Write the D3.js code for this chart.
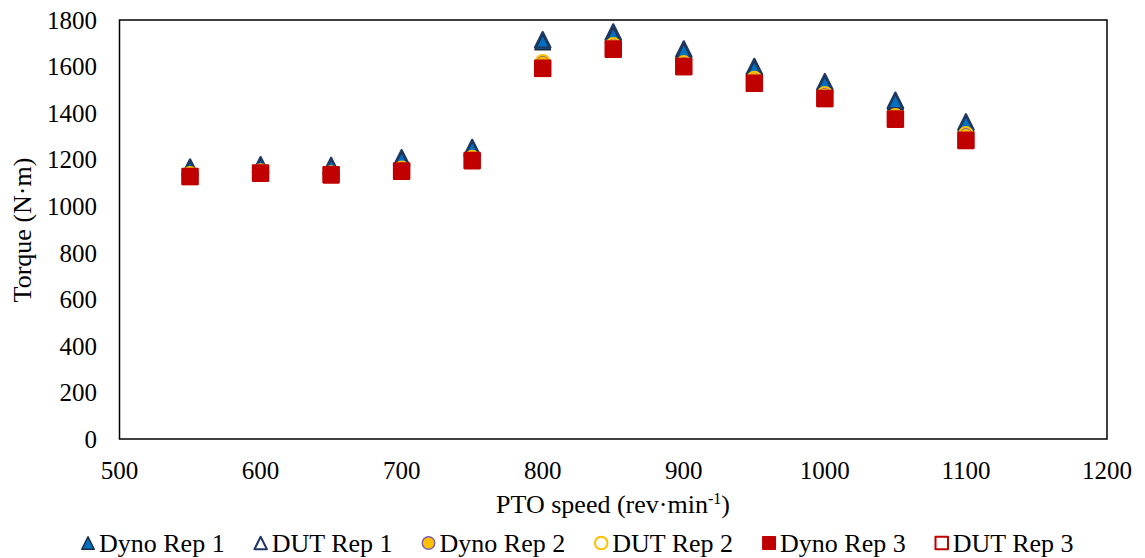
<!DOCTYPE html>
<meta charset="utf-8">
<style>
body { margin: 0; background: #fff; }
text { font-family: "Liberation Serif", "Times New Roman", serif; fill: #000; }
</style>
<body>
<div id="chart"></div>
<script src="https://d3js.org/d3.v7.min.js"></script>
<script>
// PTO speed (rev/min)
var speeds = [550, 600, 650, 700, 750, 800, 850, 900, 950, 1000, 1050, 1100];

// torque readings (N·m) per replicate
var dynoRep1 = [1160, 1170, 1168, 1200, 1245, 1705, 1735, 1665, 1590, 1525, 1448, 1355];
var dutRep1  = [1168, 1178, 1175, 1208, 1252, 1715, 1748, 1675, 1600, 1535, 1455, 1362];
var dynoRep2 = [1135, 1148, 1140, 1160, 1205, 1615, 1690, 1612, 1545, 1478, 1385, 1305];
var dutRep2  = [1138, 1150, 1142, 1162, 1208, 1620, 1693, 1615, 1548, 1482, 1388, 1310];
var dynoRep3 = [1126, 1140, 1133, 1148, 1194, 1590, 1672, 1598, 1526, 1461, 1372, 1280];
var dutRep3  = [1128, 1143, 1135, 1151, 1196, 1593, 1675, 1600, 1528, 1463, 1375, 1283];

var xTicks = [500, 600, 700, 800, 900, 1000, 1100, 1200];
var yTicks = [0, 200, 400, 600, 800, 1000, 1200, 1400, 1600, 1800];

var series = [
  {name: "Dyno Rep 1", values: dynoRep1, shape: "tri", fill: "#0070C0", stroke: "#1b2a3f", sw: 1.5},
  {name: "DUT Rep 1",  values: dutRep1,  shape: "tri", fill: "none",    stroke: "#203864", sw: 2.2},
  {name: "Dyno Rep 2", values: dynoRep2, shape: "circ", fill: "#FFC000", stroke: "#7f5fa8", sw: 1.5},
  {name: "DUT Rep 2",  values: dutRep2,  shape: "circ", fill: "none",   stroke: "#FFC000", sw: 2},
  {name: "Dyno Rep 3", values: dynoRep3, shape: "sq", fill: "#C00000", stroke: "#C00000", sw: 1},
  {name: "DUT Rep 3",  values: dutRep3,  shape: "sq", fill: "none",    stroke: "#C00000", sw: 2}
];

var W = 1145, H = 558;
var x = d3.scaleLinear().domain([500, 1200]).range([119.5, 1107]);
var y = d3.scaleLinear().domain([0, 1800]).range([439, 20]);

var svg = d3.select("#chart").append("svg")
    .attr("width", W)
    .attr("height", H);

// marker path, centred at 0,0
function markerPath(shape, s) {
  var h = s / 2;
  if (shape == "tri") return "M0," + (-h) + "L" + h + "," + h + "L" + (-h) + "," + h + "Z";
  if (shape == "sq") return "M" + (-h) + "," + (-h) + "H" + h + "V" + h + "H" + (-h) + "Z";
  return d3.symbol().type(d3.symbolCircle).size(Math.PI * h * h)();
}

// plot frame
svg.append("rect")
  .attr("x", x(500)).attr("y", y(1800))
  .attr("width", x(1200) - x(500)).attr("height", y(0) - y(1800))
  .attr("fill", "none").attr("stroke", "#000").attr("stroke-width", 1.5);

// y tick labels
svg.selectAll(".ytick")
    .data(yTicks)
  .enter().append("text")
    .attr("class", "ytick")
    .attr("x", 97)
    .attr("y", function(d) { return y(d); })
    .attr("dy", "0.35em")
    .style("text-anchor", "end")
    .style("font-size", "25px")
    .text(function(d) { return d; });

// x tick labels
svg.selectAll(".xtick")
    .data(xTicks)
  .enter().append("text")
    .attr("class", "xtick")
    .attr("x", function(d) { return x(d); })
    .attr("y", 470)
    .attr("dy", "0.35em")
    .style("text-anchor", "middle")
    .style("font-size", "25px")
    .text(function(d) { return d; });

// axis titles
svg.append("text")
  .attr("transform", "translate(22,230) rotate(-90)")
  .attr("dy", "0.35em")
  .style("text-anchor", "middle")
  .style("font-size", "26px")
  .text("Torque (N·m)");

var xt = svg.append("text")
  .attr("x", 613).attr("y", 504)
  .attr("dy", "0.35em")
  .style("text-anchor", "middle")
  .style("font-size", "26px");
xt.append("tspan").text("PTO speed (rev·min");
xt.append("tspan").attr("dy", "-9").style("font-size", "16px").text("-1");
xt.append("tspan").attr("dy", "9").text(")");

// markers
series.forEach(function(s) {
  svg.append("g").selectAll("path")
      .data(s.values.map(function(v, i) { return {x: speeds[i], y: v}; }))
    .enter().append("path")
      .attr("transform", function(d) { return "translate(" + x(d.x) + "," + y(d.y) + ")"; })
      .attr("d", markerPath(s.shape, s.shape == "circ" ? 14 : 15.5))
      .attr("fill", s.fill)
      .attr("stroke", s.stroke)
      .attr("stroke-width", s.sw)
      .attr("stroke-linejoin", "round");
});

// legend
var legend = svg.append("g");
var items = legend.selectAll("g")
    .data(series)
  .enter().append("g");
items.append("path")
  .attr("d", function(d) { return markerPath(d.shape, 12.5); })
  .attr("fill", function(d) { return d.fill; })
  .attr("stroke", function(d) { return d.stroke; })
  .attr("stroke-width", function(d) { return d.fill == "none" ? 2 : 1.5; })
  .attr("stroke-linejoin", "round");
items.append("text")
  .attr("x", 11)
  .attr("dy", "0.35em")
  .style("font-size", "26px")
  .text(function(d) { return d.name; });

var pos = 88;
items.each(function() {
  var w = d3.select(this).select("text").node().getComputedTextLength();
  d3.select(this).attr("transform", "translate(" + pos + ",543)");
  pos += 11 + w + 36;
});
</script>
</body>
